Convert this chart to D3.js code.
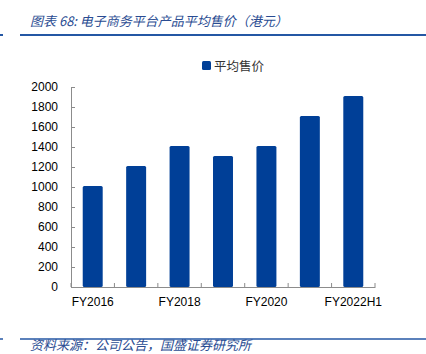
<!DOCTYPE html>
<html lang="zh">
<head>
  <meta charset="UTF-8" />
  <title>电子商务平台产品平均售价</title>
  <script src="https://d3js.org/d3.v7.min.js"></script>
  <style>
    body { margin: 0; background: #fff; }
    svg { display: block; }
    .title, .source { font-family: "Noto Sans CJK SC", sans-serif; font-style: italic; font-size: 13px; fill: #2a4c92; }
    .tick text { font-family: "Liberation Sans", Arial, sans-serif; font-size: 12px; fill: #000; }
    .legend text { font-family: "Noto Sans CJK SC", sans-serif; font-size: 12.5px; fill: #333; }
  </style>
</head>
<body>
<svg width="426" height="354"></svg>
<script>
  // 数据
  const categories = ["FY2016", "FY2017", "FY2018", "FY2019", "FY2020", "FY2021", "FY2022H1"];
  const avgPrice = [1010, 1210, 1410, 1310, 1410, 1710, 1910];
  const yTicks = [0, 200, 400, 600, 800, 1000, 1200, 1400, 1600, 1800, 2000];
  const shownLabels = ["FY2016", "FY2018", "FY2020", "FY2022H1"];
  const seriesName = "平均售价";

  const svg = d3.select("svg");
  const barColor = "#003f97";
  const ruleColor = "#2457a4";

  // 标题和横线
  svg.append("text").attr("class", "title")
    .attr("x", 30).attr("y", 26)
    .text("图表 68:  电子商务平台产品平均售价（港元）");
  svg.append("line").attr("x1", 20).attr("x2", 426).attr("y1", 35).attr("y2", 35)
    .attr("stroke", ruleColor).attr("stroke-width", 2);
  svg.append("line").attr("x1", 0).attr("x2", 3).attr("y1", 35).attr("y2", 35)
    .attr("stroke", ruleColor).attr("stroke-width", 2);

  const x = d3.scaleBand().domain(categories).range([71, 375]).paddingInner(0.54).paddingOuter(0.27);
  const y = d3.scaleLinear().domain([0, 2000]).range([287, 87]);

  // 坐标轴
  const gx = svg.append("g").attr("transform", "translate(0,287)")
    .call(d3.axisBottom(x).tickSizeInner(0).tickSizeOuter(0).tickPadding(10)
      .tickFormat(d => shownLabels.includes(d) ? d : ""));
  gx.select(".domain").attr("stroke", "#8c8c8c");
  // 分类之间的刻度线
  gx.selectAll(".sep")
    .data(d3.range(categories.length + 1))
    .enter().append("line")
    .attr("x1", i => 71 + i * (304 / categories.length))
    .attr("x2", i => 71 + i * (304 / categories.length))
    .attr("y1", 0).attr("y2", -4)
    .attr("stroke", "#8c8c8c");

  const gy = svg.append("g").attr("transform", "translate(71,0)")
    .call(d3.axisLeft(y).tickValues(yTicks).tickFormat(d3.format("d"))
      .tickSizeInner(-4).tickSizeOuter(0).tickPadding(13));
  gy.select(".domain").attr("stroke", "#8c8c8c");
  gy.selectAll(".tick line").attr("stroke", "#8c8c8c");

  // 柱子
  svg.selectAll(".bar")
    .data(avgPrice)
    .enter().append("rect")
    .attr("class", "bar")
    .attr("x", (d, i) => x(categories[i]))
    .attr("y", d => y(d))
    .attr("width", x.bandwidth())
    .attr("height", d => y(0) - y(d))
    .attr("rx", 1.5)
    .attr("fill", barColor);

  // 图例
  const legend = svg.append("g").attr("class", "legend").attr("transform", "translate(202,61)");
  legend.append("rect").attr("width", 9).attr("height", 9).attr("rx", 1.5).attr("fill", barColor);
  legend.append("text").attr("x", 12).attr("y", 9.5).text(seriesName);

  // 资料来源
  svg.append("line").attr("x1", 20).attr("x2", 426).attr("y1", 339).attr("y2", 339)
    .attr("stroke", ruleColor).attr("stroke-width", 1.5);
  svg.append("line").attr("x1", 0).attr("x2", 3).attr("y1", 339).attr("y2", 339)
    .attr("stroke", ruleColor).attr("stroke-width", 1.5);
  svg.append("text").attr("class", "source")
    .attr("x", 30).attr("y", 350)
    .text("资料来源：公司公告，国盛证券研究所");
</script>
</body>
</html>
